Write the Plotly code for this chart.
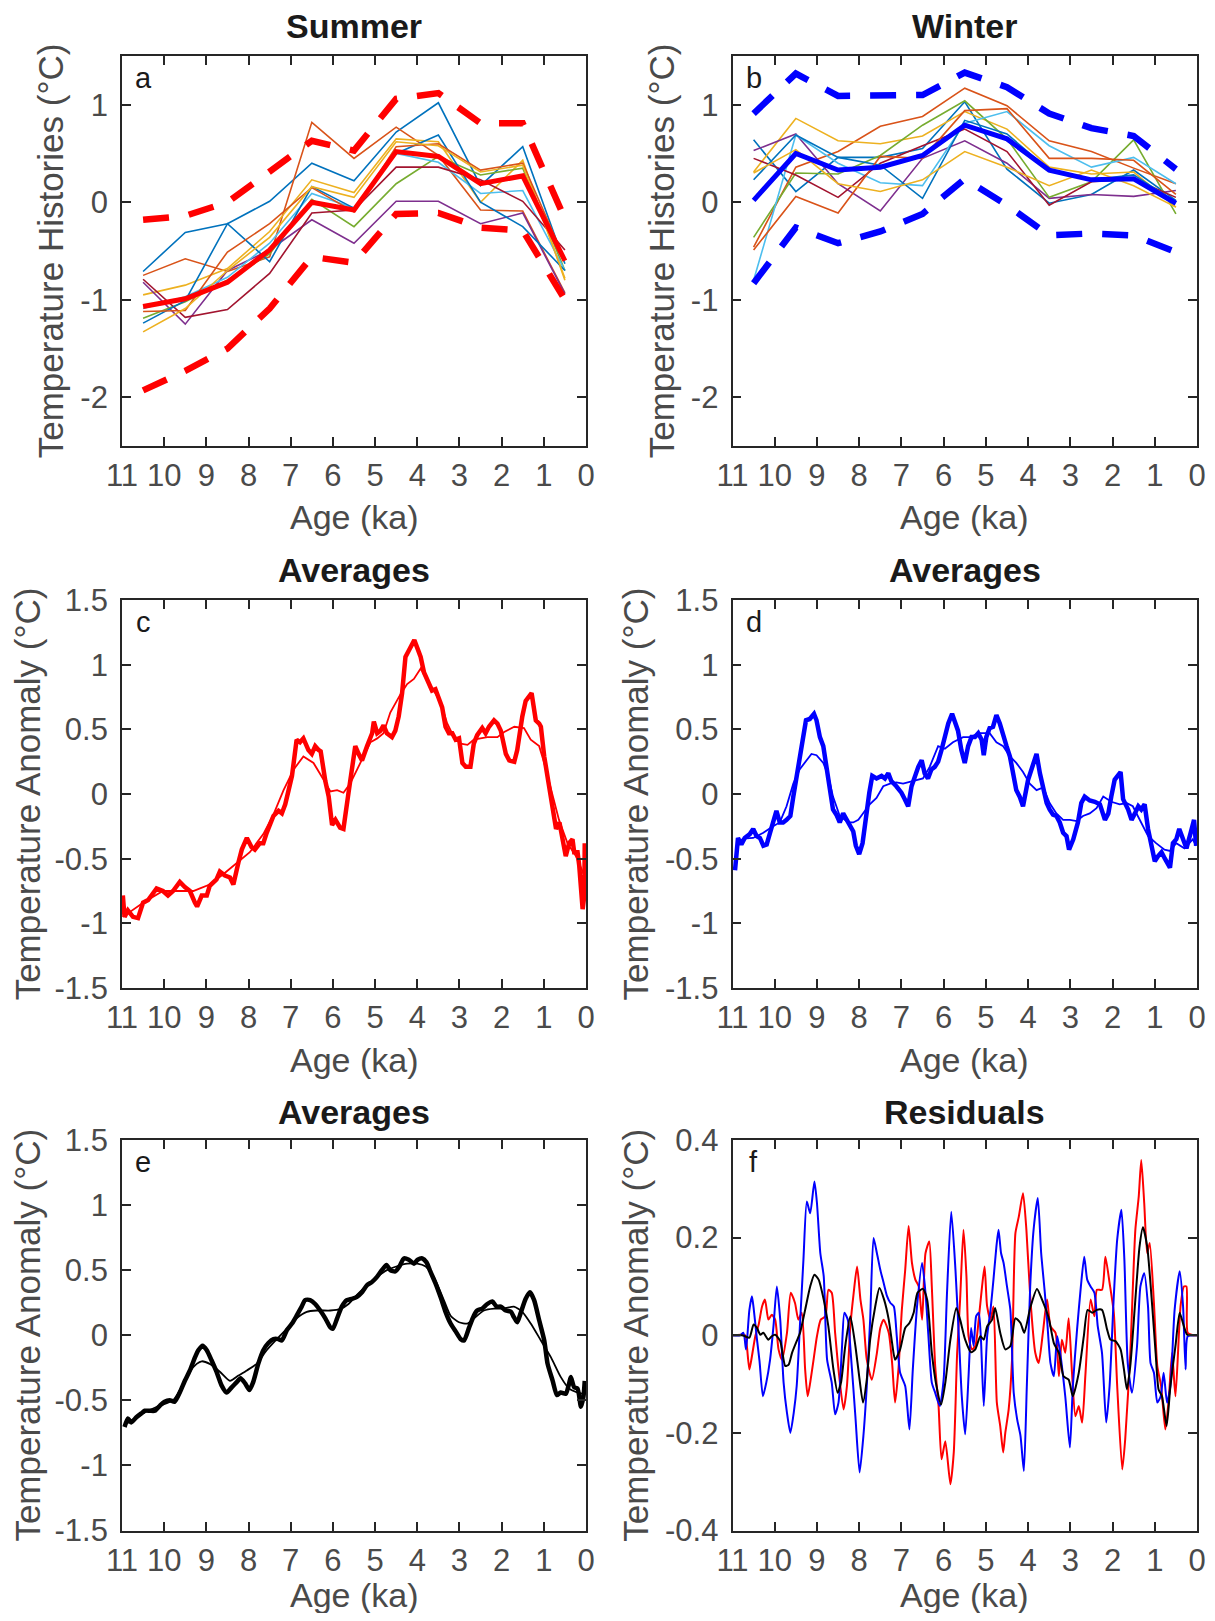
import plotly.graph_objects as go

# ---------------- panels a / b : 1-ka binned histories ----------------
bin_age = [10.5, 9.5, 8.5, 7.5, 6.5, 5.5, 4.5, 3.5, 2.5, 1.5, 0.5]

summer_histories = [
    [-0.71, -0.31, -0.22, 0.01, 0.40, 0.22, 0.72, 1.02, 0.17, 0.57, -0.63],
    [-0.75, -0.58, -0.71, -0.56, 0.82, 0.45, 0.77, 0.48, -0.08, -0.09, -0.93],
    [-0.95, -0.85, -0.68, -0.30, 0.23, 0.10, 0.65, 0.62, 0.00, 0.43, -0.80],
    [-0.82, -1.25, -0.70, -0.49, -0.18, -0.42, 0.01, 0.01, -0.22, -0.11, -0.94],
    [-1.19, -1.02, -0.80, -0.53, 0.03, -0.25, 0.19, 0.47, 0.28, 0.35, -0.70],
    [-1.09, -0.97, -0.77, -0.42, 0.09, -0.06, 0.50, 0.41, 0.09, 0.12, -0.70],
    [-0.79, -1.18, -1.10, -0.73, -0.11, -0.08, 0.36, 0.36, 0.23, 0.01, -0.49],
    [-1.24, -1.01, -0.22, -0.61, 0.16, -0.06, 0.50, 0.69, 0.00, -0.25, -0.70],
    [-1.12, -1.11, -0.51, -0.22, 0.15, -0.10, 0.57, 0.60, 0.33, 0.40, -0.59],
    [-1.33, -1.09, -0.70, -0.36, 0.16, 0.05, 0.62, 0.58, 0.31, 0.38, -0.78],
]
summer_mean = [-1.07, -0.99, -0.82, -0.49, 0.00, -0.08, 0.52, 0.47, 0.19, 0.27, -0.60]
summer_upper = [-0.18, -0.14, 0.00, 0.32, 0.63, 0.53, 1.06, 1.12, 0.81, 0.81, -0.17]
summer_lower = [-1.93, -1.73, -1.50, -1.09, -0.56, -0.62, -0.12, -0.11, -0.26, -0.29, -1.00]

winter_histories = [
    [0.64, 0.11, 0.46, 0.46, 0.55, 1.03, 0.34, -0.01, 0.08, 0.33, 0.02],
    [-0.46, 0.36, 0.52, 0.78, 0.88, 1.17, 0.99, 0.63, 0.52, 0.35, 0.19],
    [0.31, 0.86, 0.63, 0.60, 0.68, 0.93, 0.75, 0.36, 0.29, 0.31, -0.05],
    [0.53, 0.70, 0.19, -0.09, 0.45, 0.63, 0.40, 0.04, 0.08, 0.06, 0.12],
    [-0.36, 0.30, 0.29, 0.48, 0.79, 1.04, 0.65, 0.05, 0.21, 0.64, -0.12],
    [-0.80, 0.69, 0.40, 0.20, 0.17, 0.81, 0.93, 0.58, 0.36, 0.46, 0.19],
    [0.45, 0.28, 0.05, 0.40, 0.58, 0.75, 0.52, -0.03, 0.21, 0.24, 0.05],
    [0.23, 0.69, 0.46, 0.38, 0.04, 0.84, 0.70, 0.33, 0.23, 0.28, 0.00],
    [-0.49, 0.06, -0.11, 0.47, 0.45, 0.94, 0.96, 0.45, 0.45, 0.43, 0.08],
    [0.30, 0.54, 0.19, 0.11, 0.23, 0.52, 0.36, 0.17, 0.33, 0.17, -0.05],
]
winter_mean = [0.02, 0.50, 0.33, 0.36, 0.48, 0.79, 0.65, 0.33, 0.23, 0.24, -0.01]
winter_upper = [0.91, 1.32, 1.09, 1.09, 1.10, 1.33, 1.18, 0.91, 0.76, 0.68, 0.34]
winter_lower = [-0.83, -0.26, -0.42, -0.30, -0.12, 0.24, -0.03, -0.34, -0.32, -0.34, -0.51]

# matlab default colour order
line_colors = ["#0072BD", "#D95319", "#EDB120", "#7E2F8E", "#77AC30",
               "#4DBEEE", "#A2142F", "#0072BD", "#D95319", "#EDB120"]

# ---------------- panel c : summer averages ----------------
c_thick_age = [10.98, 10.94, 10.86, 10.74, 10.62, 10.50, 10.38, 10.26, 10.18, 10.03,
               9.91, 9.79, 9.63, 9.51, 9.39, 9.27, 9.22, 9.11, 8.99, 8.92,
               8.76, 8.68, 8.56, 8.44, 8.36, 8.24, 8.16, 8.04, 7.93, 7.85,
               7.73, 7.65, 7.57, 7.41, 7.29, 7.21, 7.13, 7.05, 6.97, 6.86,
               6.78, 6.70, 6.58, 6.50, 6.42, 6.34, 6.29, 6.18, 6.10, 6.02,
               5.94, 5.83, 5.75, 5.63, 5.55, 5.47, 5.39, 5.31, 5.19, 5.07,
               5.03, 4.95, 4.87, 4.80, 4.72, 4.60, 4.52, 4.44, 4.36, 4.28,
               4.20, 4.12, 4.07, 4.00, 3.92, 3.84, 3.73, 3.65, 3.57, 3.49,
               3.41, 3.33, 3.25, 3.17, 3.09, 3.01, 2.93, 2.85, 2.74, 2.66,
               2.58, 2.46, 2.38, 2.30, 2.18, 2.10, 2.02, 1.90, 1.82, 1.70,
               1.63, 1.51, 1.43, 1.29, 1.19, 1.11, 1.07, 0.99, 0.87, 0.79,
               0.71, 0.63, 0.55, 0.48, 0.40, 0.32, 0.28, 0.20, 0.16, 0.12,
               0.08, 0.04, 0.03]
c_thick = [-0.785, -0.95, -0.90, -0.95, -0.96, -0.84, -0.82, -0.76, -0.73, -0.75,
           -0.785, -0.75, -0.68, -0.72, -0.75, -0.84, -0.87, -0.785, -0.785, -0.71,
           -0.66, -0.60, -0.63, -0.645, -0.70, -0.53, -0.43, -0.34, -0.41, -0.43,
           -0.38, -0.38, -0.30, -0.17, -0.13, -0.15, -0.08, 0.03, 0.14, 0.42,
           0.40, 0.43, 0.34, 0.31, 0.37, 0.34, 0.33, 0.10, -0.02, -0.24,
           -0.20, -0.26, -0.27, 0.01, 0.21, 0.37, 0.31, 0.26, 0.37, 0.47,
           0.56, 0.47, 0.49, 0.53, 0.47, 0.44, 0.49, 0.60, 0.78, 1.06,
           1.11, 1.15, 1.19, 1.13, 1.06, 0.94, 0.86, 0.80, 0.81, 0.75,
           0.67, 0.52, 0.47, 0.47, 0.42, 0.43, 0.24, 0.21, 0.21, 0.39,
           0.455, 0.51, 0.47, 0.52, 0.57, 0.545, 0.49, 0.31, 0.26, 0.25,
           0.34, 0.60, 0.72, 0.78, 0.57, 0.545, 0.52, 0.29, 0.03, -0.12,
           -0.27, -0.22, -0.38, -0.48, -0.38, -0.35, -0.45, -0.45, -0.555, -0.73,
           -0.89, -0.785, -0.38]
c_thin_age = [10.98, 10.50, 10.03, 9.71, 9.31, 9.15, 8.92, 8.60, 8.28, 7.97,
              7.65, 7.41, 7.17, 6.93, 6.70, 6.46, 6.22, 6.06, 5.90, 5.75,
              5.59, 5.43, 5.27, 5.11, 4.95, 4.80, 4.64, 4.40, 4.24, 4.08,
              3.92, 3.77, 3.61, 3.45, 3.29, 3.13, 2.97, 2.81, 2.66, 2.50,
              2.34, 2.10, 1.94, 1.70, 1.47, 1.31, 1.11, 0.99, 0.83, 0.64,
              0.44, 0.24, 0.04]
c_thin = [-0.95, -0.84, -0.75, -0.75, -0.75, -0.73, -0.70, -0.62, -0.53, -0.45,
          -0.31, -0.16, 0.03, 0.19, 0.29, 0.24, 0.11, 0.02, 0.03, 0.01,
          0.08, 0.19, 0.30, 0.40, 0.43, 0.47, 0.63, 0.77, 0.85, 0.89,
          0.97, 0.88, 0.80, 0.71, 0.545, 0.44, 0.39, 0.38, 0.42, 0.43,
          0.44, 0.44, 0.48, 0.52, 0.51, 0.42, 0.37, 0.24, 0.03, -0.20,
          -0.38, -0.48, -0.63]

# ---------------- panel d : winter averages ----------------
d_thick_age = [10.94, 10.91, 10.87, 10.79, 10.71, 10.59, 10.51, 10.43, 10.35, 10.27,
               10.19, 10.12, 10.04, 9.96, 9.88, 9.80, 9.72, 9.63, 9.56, 9.48,
               9.41, 9.33, 9.26, 9.17, 9.07, 9.01, 8.93, 8.85, 8.77, 8.70,
               8.62, 8.54, 8.46, 8.38, 8.30, 8.22, 8.14, 8.08, 8.00, 7.92,
               7.84, 7.76, 7.69, 7.59, 7.47, 7.39, 7.31, 7.24, 7.12, 7.00,
               6.92, 6.84, 6.76, 6.68, 6.60, 6.52, 6.45, 6.37, 6.29, 6.21,
               6.13, 6.05, 5.97, 5.89, 5.80, 5.74, 5.66, 5.58, 5.50, 5.42,
               5.34, 5.26, 5.18, 5.10, 5.05, 4.99, 4.91, 4.83, 4.75, 4.67,
               4.59, 4.51, 4.43, 4.35, 4.28, 4.20, 4.12, 4.00, 3.90, 3.80,
               3.72, 3.64, 3.56, 3.49, 3.41, 3.33, 3.25, 3.17, 3.09, 3.03,
               2.93, 2.82, 2.74, 2.66, 2.54, 2.42, 2.30, 2.18, 2.10, 2.03,
               1.95, 1.81, 1.75, 1.63, 1.55, 1.47, 1.39, 1.32, 1.24, 1.16,
               1.08, 1.00, 0.92, 0.84, 0.76, 0.64, 0.57, 0.49, 0.42,
               0.35, 0.25, 0.15, 0.07, 0.02]
d_thick = [-0.59, -0.43, -0.34, -0.39, -0.34, -0.31, -0.27, -0.325, -0.34, -0.40,
           -0.39, -0.31, -0.22, -0.13, -0.22, -0.22, -0.20, -0.17, -0.02, 0.14,
           0.24, 0.42, 0.57, 0.58, 0.62, 0.57, 0.44, 0.37, 0.19, 0.08,
           -0.12, -0.16, -0.22, -0.15, -0.20, -0.235, -0.29, -0.40, -0.465, -0.38,
           -0.17, 0.01, 0.14, 0.12, 0.14, 0.12, 0.16, 0.10, 0.06, 0.01,
           -0.04, -0.095, 0.06, 0.14, 0.21, 0.26, 0.16, 0.12, 0.19, 0.21,
           0.25, 0.34, 0.455, 0.545, 0.62, 0.57, 0.49, 0.34, 0.24, 0.37,
           0.44, 0.44, 0.47, 0.42, 0.30, 0.44, 0.51, 0.52, 0.61, 0.545,
           0.44, 0.37, 0.29, 0.14, 0.03, -0.02, -0.095, 0.11, 0.21, 0.31,
           0.16, 0.06, -0.07, -0.12, -0.16, -0.17, -0.22, -0.30, -0.325, -0.43,
           -0.35, -0.22, -0.07, -0.02, -0.05, -0.06, -0.08, -0.20, -0.15, -0.02,
           0.11, 0.17, -0.04, -0.12, -0.20, -0.15, -0.095, -0.12, -0.08, -0.27,
           -0.40, -0.52, -0.48, -0.45, -0.50, -0.57, -0.38, -0.35, -0.27,
           -0.33, -0.42, -0.30, -0.20, -0.40]
d_thin_age = [10.87, 10.75, 10.51, 10.27, 10.04, 9.88, 9.72, 9.56, 9.41, 9.25,
              9.13, 9.01, 8.85, 8.73, 8.62, 8.46, 8.26, 8.14, 8.02, 7.91,
              7.75, 7.59, 7.43, 7.27, 7.12, 6.96, 6.72, 6.49, 6.33, 6.21,
              6.13, 5.97, 5.78, 5.54, 5.38, 5.14, 4.91, 4.75, 4.59, 4.43,
              4.28, 4.12, 3.96, 3.80, 3.64, 3.49, 3.33, 3.17, 3.01, 2.85,
              2.70, 2.54, 2.38, 2.22, 2.03, 1.83, 1.67, 1.52, 1.36, 1.16,
              0.97, 0.77, 0.64, 0.49, 0.30, 0.10, 0.02]
d_thin = [-0.38, -0.345, -0.34, -0.30, -0.25, -0.22, -0.095, 0.08, 0.19, 0.26,
          0.31, 0.30, 0.24, 0.14, -0.02, -0.17, -0.22, -0.22, -0.20, -0.15,
          -0.08, -0.03, 0.06, 0.08, 0.09, 0.08, 0.10, 0.12, 0.21, 0.31,
          0.37, 0.35, 0.40, 0.44, 0.44, 0.47, 0.47, 0.40, 0.37, 0.29,
          0.24, 0.17, 0.08, 0.03, 0.05, -0.07, -0.15, -0.20, -0.20, -0.21,
          -0.17, -0.15, -0.11, -0.02, -0.06, -0.08, -0.07, -0.095, -0.20, -0.325,
          -0.38, -0.43, -0.44, -0.38, -0.42, -0.35, -0.40]

# ---------------- panel e : annual averages ----------------
e_thick_age = [10.94, 10.86, 10.78, 10.66, 10.54, 10.46, 10.34, 10.22, 10.10, 9.99,
               9.87, 9.75, 9.63, 9.51, 9.39, 9.27, 9.19, 9.09, 8.99, 8.88,
               8.76, 8.64, 8.52, 8.40, 8.28, 8.19, 8.08, 7.98, 7.89, 7.77,
               7.65, 7.53, 7.41, 7.29, 7.21, 7.09, 6.97, 6.86, 6.74, 6.66,
               6.54, 6.42, 6.30, 6.18, 6.06, 6.00, 5.90, 5.79, 5.67, 5.55,
               5.43, 5.31, 5.19, 5.07, 4.95, 4.84, 4.73, 4.64, 4.52, 4.42,
               4.32, 4.20, 4.08, 3.99, 3.88, 3.78, 3.69, 3.57, 3.45, 3.33,
               3.21, 3.09, 2.97, 2.89, 2.77, 2.66, 2.58, 2.46, 2.34, 2.22,
               2.12, 2.02, 1.90, 1.78, 1.71, 1.63, 1.55, 1.43, 1.33, 1.23,
               1.11, 0.99, 0.91, 0.79, 0.69, 0.60, 0.48, 0.40, 0.36, 0.28,
               0.20, 0.12, 0.06, 0.03]
e_thick = [-0.705, -0.64, -0.67, -0.63, -0.60, -0.58, -0.58, -0.58, -0.54, -0.51,
           -0.50, -0.51, -0.44, -0.35, -0.27, -0.17, -0.115, -0.08, -0.115, -0.19,
           -0.28, -0.385, -0.44, -0.40, -0.36, -0.33, -0.37, -0.42, -0.36, -0.22,
           -0.115, -0.06, -0.03, -0.03, -0.04, 0.04, 0.09, 0.15, 0.22, 0.27,
           0.27, 0.24, 0.19, 0.13, 0.06, 0.05, 0.13, 0.22, 0.27, 0.28,
           0.295, 0.33, 0.385, 0.41, 0.45, 0.50, 0.54, 0.50, 0.49, 0.53,
           0.59, 0.58, 0.55, 0.58, 0.59, 0.56, 0.49, 0.40, 0.295, 0.18,
           0.09, 0.03, -0.03, -0.04, 0.06, 0.15, 0.19, 0.205, 0.24, 0.26,
           0.22, 0.22, 0.19, 0.18, 0.14, 0.10, 0.17, 0.28, 0.33, 0.27,
           0.115, -0.04, -0.22, -0.35, -0.46, -0.44, -0.45, -0.37, -0.32, -0.40,
           -0.41, -0.55, -0.47, -0.35]
e_thin_age = [10.94, 10.50, 10.10, 9.79, 9.59, 9.39, 9.23, 9.11, 8.92, 8.68,
              8.44, 8.24, 8.04, 7.81, 7.57, 7.33, 7.09, 6.86, 6.62, 6.38,
              6.06, 5.83, 5.63, 5.43, 5.19, 4.95, 4.72, 4.48, 4.24, 4.00,
              3.81, 3.61, 3.37, 3.21, 3.01, 2.81, 2.62, 2.42, 2.18, 1.94,
              1.71, 1.51, 1.31, 1.07, 0.83, 0.60, 0.40, 0.20, 0.04]
e_thin = [-0.69, -0.60, -0.54, -0.50, -0.40, -0.28, -0.22, -0.20, -0.22, -0.28,
          -0.35, -0.31, -0.27, -0.22, -0.115, -0.03, 0.05, 0.13, 0.18, 0.19,
          0.19, 0.20, 0.24, 0.31, 0.385, 0.45, 0.50, 0.53, 0.55, 0.55,
          0.53, 0.45, 0.27, 0.15, 0.10, 0.09, 0.14, 0.19, 0.205, 0.205,
          0.22, 0.18, 0.09, -0.04, -0.17, -0.32, -0.41, -0.44, -0.45]

# ---------------- panel f : residuals ----------------
f_red_age = [11.00, 10.70, 10.66, 10.60, 10.54, 10.46, 10.38, 10.30, 10.23, 10.15,
             10.07, 9.99, 9.91, 9.83, 9.71, 9.62, 9.52, 9.44, 9.36, 9.28,
             9.22, 9.16, 9.08, 9.00, 8.91, 8.80, 8.73, 8.65, 8.57, 8.49,
             8.37, 8.29, 8.21, 8.13, 8.05, 7.97, 7.90, 7.82, 7.70, 7.58,
             7.50, 7.42, 7.30, 7.22, 7.15, 7.07, 6.99, 6.91, 6.83, 6.75,
             6.67, 6.59, 6.51, 6.43, 6.34, 6.28, 6.20, 6.12, 6.05, 5.96,
             5.84, 5.76, 5.68, 5.61, 5.53, 5.46, 5.41, 5.33, 5.25, 5.17,
             5.09, 5.03, 4.97, 4.89, 4.82, 4.74, 4.66, 4.59, 4.54, 4.46,
             4.38, 4.30, 4.22, 4.12, 4.04, 3.95, 3.83, 3.75, 3.65, 3.55,
             3.47, 3.35, 3.27, 3.20, 3.12, 3.04, 2.96, 2.88, 2.80, 2.72,
             2.64, 2.52, 2.43, 2.37, 2.25, 2.17, 2.07, 1.97, 1.89, 1.77,
             1.70, 1.58, 1.46, 1.38, 1.32, 1.25, 1.18, 1.12, 1.02, 0.94,
             0.85, 0.75, 0.67, 0.59, 0.51, 0.39, 0.31, 0.25, 0.22, 0.08,
             0.00]
f_red = [0, 0, -0.022, -0.07, -0.043, -0.002, 0.022, 0.059, 0.073, 0.032,
         0.042, 0.032, -0.029, -0.05, 0.005, 0.087, 0.066, 0.032, 0.046, -0.07,
         -0.125, -0.097, -0.05, -0.002, 0.032, 0.039, 0.093, 0.087, 0.005, -0.07,
         -0.152, -0.104, 0.018, 0.087, 0.141, 0.073, 0.032, -0.05, -0.091, -0.036,
         0.015, 0.032, 0.005, -0.057, -0.138, -0.07, 0.052, 0.134, 0.224, 0.148,
         0.114, 0.10, 0.032, 0.168, 0.192, 0.10, -0.063, -0.145, -0.254, -0.217,
         -0.305, -0.24, -0.036, 0.073, 0.216, 0.121, -0.002, -0.029, -0.022, 0.032,
         0.10, 0.141, 0.059, 0.032, 0.059, -0.138, -0.186, -0.24, -0.20, -0.152,
         -0.05, 0.209, 0.243, 0.291, 0.216, 0.08, -0.036, -0.057, 0.005, 0.073,
         0.018, 0.005, -0.084, -0.009, -0.036, 0.035, -0.077, -0.166, -0.145, -0.179,
         -0.077, 0.073, 0.039, 0.093, 0.093, 0.161, 0.107, 0.046, -0.104, -0.275,
         -0.213, -0.036, 0.216, 0.284, 0.359, 0.271, 0.168, 0.189, 0.066, -0.063,
         -0.104, -0.193, -0.132, -0.036, -0.125, 0.059, 0.10, 0.10, 0.005, 0,
         0]
f_blue_age = [11.00, 10.82, 10.74, 10.68, 10.60, 10.54, 10.50, 10.42, 10.36, 10.28,
              10.20, 10.11, 10.03, 9.95, 9.87, 9.79, 9.71, 9.63, 9.55, 9.48,
              9.40, 9.32, 9.24, 9.16, 9.06, 9.00, 8.92, 8.84, 8.76, 8.65,
              8.57, 8.49, 8.41, 8.35, 8.27, 8.20, 8.09, 7.99, 7.90, 7.82,
              7.74, 7.66, 7.58, 7.50, 7.42, 7.34, 7.26, 7.18, 7.11, 7.03,
              6.91, 6.81, 6.73, 6.63, 6.51, 6.43, 6.36, 6.28, 6.20, 6.09,
              6.00, 5.92, 5.82, 5.72, 5.64, 5.57, 5.49, 5.41, 5.35, 5.29,
              5.23, 5.17, 5.12, 5.05, 4.97, 4.89, 4.82, 4.75, 4.70, 4.64,
              4.58, 4.50, 4.42, 4.34, 4.26, 4.18, 4.10, 4.03, 3.95, 3.87,
              3.77, 3.69, 3.61, 3.55, 3.47, 3.39, 3.31, 3.24, 3.12, 3.01,
              2.94, 2.84, 2.75, 2.67, 2.60, 2.52, 2.43, 2.35, 2.25, 2.15,
              2.07, 1.97, 1.89, 1.79, 1.72, 1.64, 1.54, 1.42, 1.34, 1.25,
              1.16, 1.10, 1.02, 0.94, 0.86, 0.79, 0.71, 0.63, 0.53, 0.41,
              0.33, 0.27, 0.22, 0.04, 0.00]
f_blue = [0, 0, 0.005, -0.029, 0.052, 0.08, 0.056, -0.009, -0.053, -0.125,
          -0.097, -0.05, 0.018, 0.10, 0.032, -0.097, -0.159, -0.20, -0.159, -0.104,
          0.025, 0.155, 0.274, 0.25, 0.315, 0.271, 0.168, 0.121, -0.05, -0.097,
          -0.162, -0.138, -0.029, 0.046, 0.032, -0.036, -0.166, -0.281, -0.206, -0.104,
          0.032, 0.199, 0.168, 0.134, 0.107, 0.08, 0.066, 0.059, -0.002, -0.077,
          -0.104, -0.193, -0.07, 0.059, 0.148, 0.087, -0.002, -0.097, -0.118, -0.145,
          -0.091, 0.087, 0.253, 0.134, -0.002, -0.125, -0.203, -0.084, 0.015, -0.022,
          0.039, 0.046, -0.002, -0.145, -0.002, 0.052, 0.114, 0.182, 0.216, 0.168,
          0.148, 0.10, 0.052, -0.118, -0.172, -0.206, -0.278, -0.104, 0.10, 0.216,
          0.281, 0.168, 0.093, 0.032, -0.057, -0.084, -0.002, -0.036, -0.125, -0.23,
          -0.104, 0.012, 0.10, 0.161, 0.114, 0.10, 0.087, 0.018, -0.036, -0.179,
          -0.104, 0.08, 0.196, 0.257, 0.155, -0.057, -0.118, -0.022, 0.10, 0.127,
          0.059, -0.057, -0.077, -0.138, -0.125, -0.077, -0.138, -0.104, 0.052, 0.131,
          0.059, -0.07, -0.002, 0, 0]
f_black_age = [11.00, 10.78, 10.70, 10.60, 10.50, 10.42, 10.34, 10.27, 10.15, 10.07,
               9.99, 9.87, 9.75, 9.67, 9.59, 9.48, 9.40, 9.28, 9.16, 9.06,
               8.96, 8.84, 8.73, 8.61, 8.51, 8.43, 8.33, 8.21, 8.09, 8.01,
               7.91, 7.82, 7.74, 7.62, 7.52, 7.41, 7.30, 7.22, 7.15, 7.03,
               6.91, 6.81, 6.71, 6.62, 6.49, 6.39, 6.28, 6.17, 6.06, 5.96,
               5.84, 5.70, 5.61, 5.49, 5.35, 5.25, 5.13, 5.05, 4.97,
               4.85, 4.78, 4.66, 4.54, 4.42, 4.30, 4.18, 4.09, 3.95, 3.79,
               3.67, 3.51, 3.39, 3.27, 3.16, 3.04, 2.94, 2.80, 2.68, 2.59,
               2.48, 2.37, 2.25, 2.13, 2.05, 1.93, 1.81, 1.73, 1.66, 1.58,
               1.46, 1.36, 1.28, 1.18, 1.06, 0.98, 0.91, 0.83, 0.72, 0.63,
               0.51, 0.41, 0.31, 0.23, 0.08, 0.00]
f_black = [0, 0, -0.002, -0.005, 0.022, 0.015, 0.001, 0.005, -0.009, -0.002,
           0.001, -0.012, -0.063, -0.06, -0.036, -0.012, 0.005, 0.052, 0.10, 0.124,
           0.114, 0.073, 0.018, -0.07, -0.118, -0.097, -0.022, 0.039, -0.022, -0.077,
           -0.138, -0.091, -0.009, 0.059, 0.097, 0.073, 0.032, -0.016, -0.05, -0.029,
           0.015, 0.025, 0.046, 0.087, 0.095, 0.073, -0.036, -0.104, -0.142, -0.097,
           -0.009, 0.056, 0.032, -0.009, -0.035, -0.029, -0.002, -0.009, 0.018,
           0.032, 0.056, 0.005, -0.029, -0.022, 0.035, 0.025, 0.005, 0.056, 0.095,
           0.073, 0.035, -0.016, -0.036, -0.084, -0.091, -0.125, -0.077, -0.002, 0.052,
           0.046, 0.052, 0.052, 0.012, -0.009, -0.012, -0.029, -0.07, -0.111, -0.063,
           0.073, 0.182, 0.221, 0.182, 0.059, -0.036, -0.111, -0.125, -0.186, -0.104,
           -0.022, 0.046, 0.018, 0.001, 0, 0]

# ---------------- axis ticks / labels ----------------
x_tick_vals = [11, 10, 9, 8, 7, 6, 5, 4, 3, 2, 1, 0]
x_tick_text = ["11", "10", "9", "8", "7", "6", "5", "4", "3", "2", "1", "0"]
hist_tick_vals = [-2, -1, 0, 1]
hist_tick_text = ["-2", "-1", "0", "1"]
avg_tick_vals = [-1.5, -1, -0.5, 0, 0.5, 1, 1.5]
avg_tick_text = ["-1.5", "-1", "-0.5", "0", "0.5", "1", "1.5"]
res_tick_vals = [-0.4, -0.2, 0, 0.2, 0.4]
res_tick_text = ["-0.4", "-0.2", "0", "0.2", "0.4"]

panel_titles = ["Summer", "Winter", "Averages", "Averages", "Averages", "Residuals"]
panel_letters = ["a", "b", "c", "d", "e", "f"]
x_title = "Age (ka)"

# ---------------- layout geometry (page pixels) ----------------
# the page body has an 8 px margin, so the figure is made 16 px smaller
# and every page position is shifted back by that offset
PAGE_W, PAGE_H = 1215, 1621
OFF = 8
W, H = PAGE_W - 2 * OFF, PAGE_H - 2 * OFF
cols_px = [(122, 586), (732.5, 1197)]
rows_px = [(56, 446), (600, 988), (1140, 1530.5)]
title_y_px = [26, 570, 1112]
xtitle_y_px = [517, 1060, 1595]


def px_x(v):
    return (v - OFF) / W


def px_y(v):
    return 1 - (v - OFF) / H


FONT = "Liberation Sans, Arial, Helvetica, sans-serif"
AX_COL = "#262626"
LBL_COL = "#4a4a4a"

fig = go.Figure()


def line(age, val, ax, color, width, dash="solid", shape="linear"):
    fig.add_trace(go.Scatter(x=age, y=val, mode="lines", xaxis="x" + ax, yaxis="y" + ax,
                             line=dict(color=color, width=width, dash=dash, shape=shape,
                                       smoothing=0.6 if shape == "spline" else None),
                             showlegend=False, hoverinfo="skip"))


# a: summer
for rec, col in zip(summer_histories, line_colors):
    line(bin_age, rec, "", col, 1.6)
line(bin_age, summer_mean, "", "#FF0000", 5)
line(bin_age, summer_upper, "", "#FF0000", 6.5, "26px,20px")
line(bin_age, summer_lower, "", "#FF0000", 6.5, "26px,20px")

# b: winter
for rec, col in zip(winter_histories, line_colors):
    line(bin_age, rec, "2", col, 1.6)
line(bin_age, winter_mean, "2", "#0000FF", 5)
line(bin_age, winter_upper, "2", "#0000FF", 6.5, "26px,20px")
line(bin_age, winter_lower, "2", "#0000FF", 6.5, "26px,20px")

# c / d / e
line(c_thin_age, c_thin, "3", "#FF0000", 1.8)
line(c_thick_age, c_thick, "3", "#FF0000", 4.5)
line(d_thin_age, d_thin, "4", "#0000FF", 1.8)
line(d_thick_age, d_thick, "4", "#0000FF", 4.5)
line(e_thin_age, e_thin, "5", "#000000", 1.8, shape="spline")
line(e_thick_age, e_thick, "5", "#000000", 4.5, shape="spline")

# f
line(f_red_age, f_red, "6", "#FF0000", 2, shape="spline")
line(f_blue_age, f_blue, "6", "#0000FF", 2, shape="spline")
line(f_black_age, f_black, "6", "#000000", 2, shape="spline")

yspecs = [
    ([-2.5, 1.5], hist_tick_vals, hist_tick_text, "Temperature Histories (°C)"),
    ([-2.5, 1.5], hist_tick_vals, hist_tick_text, "Temperature Histories (°C)"),
    ([-1.5, 1.5], avg_tick_vals, avg_tick_text, "Temperature Anomaly (°C)"),
    ([-1.5, 1.5], avg_tick_vals, avg_tick_text, "Temperature Anomaly (°C)"),
    ([-1.5, 1.5], avg_tick_vals, avg_tick_text, "Temperature Anomaly (°C)"),
    ([-0.4, 0.4], res_tick_vals, res_tick_text, "Temperature Anomaly (°C)"),
]

axis_common = dict(showgrid=False, zeroline=False, showline=True, mirror="ticks",
                   linecolor=AX_COL, linewidth=1.8, ticks="inside", ticklen=9,
                   tickwidth=1.5, tickcolor=AX_COL, automargin=False,
                   tickfont=dict(family=FONT, size=31, color=LBL_COL))

layout = dict(width=W, height=H, margin=dict(l=0, r=0, t=0, b=0, autoexpand=False),
              plot_bgcolor="white", paper_bgcolor="white",
              font=dict(family=FONT), annotations=[])

for i in range(6):
    r, c = divmod(i, 2)
    x0, x1 = cols_px[c]
    top, bot = rows_px[r]
    suffix = "" if i == 0 else str(i + 1)
    yr, yv, yt, ylab = yspecs[i]
    layout["xaxis" + suffix] = dict(
        axis_common, domain=[px_x(x0), px_x(x1)], range=[11, 0],
        anchor="y" + suffix, tickvals=x_tick_vals, ticktext=x_tick_text,
        ticklabelstandoff=1)
    layout["yaxis" + suffix] = dict(
        axis_common, domain=[px_y(bot), px_y(top)], range=yr,
        anchor="x" + suffix, tickvals=yv, ticktext=yt, ticklabelstandoff=6,
        title=dict(text=ylab, standoff=6,
                   font=dict(family=FONT, size=35, color=LBL_COL)))
    layout["annotations"].append(dict(
        text="<b>" + panel_titles[i] + "</b>", xref="paper", yref="paper",
        x=px_x((x0 + x1) / 2), y=px_y(title_y_px[r]), xanchor="center", yanchor="middle",
        showarrow=False, font=dict(family=FONT, size=34, color="#1a1a1a")))
    layout["annotations"].append(dict(
        text=x_title, xref="paper", yref="paper",
        x=px_x((x0 + x1) / 2), y=px_y(xtitle_y_px[r]), xanchor="center", yanchor="middle",
        showarrow=False, font=dict(family=FONT, size=34, color=LBL_COL)))
    layout["annotations"].append(dict(
        text=panel_letters[i], xref="paper", yref="paper",
        x=px_x(x0 + 21), y=px_y(top + 22), xanchor="center", yanchor="middle",
        showarrow=False, font=dict(family=FONT, size=29, color="#1a1a1a")))

fig.update_layout(**layout)
fig.write_html("out.html")
